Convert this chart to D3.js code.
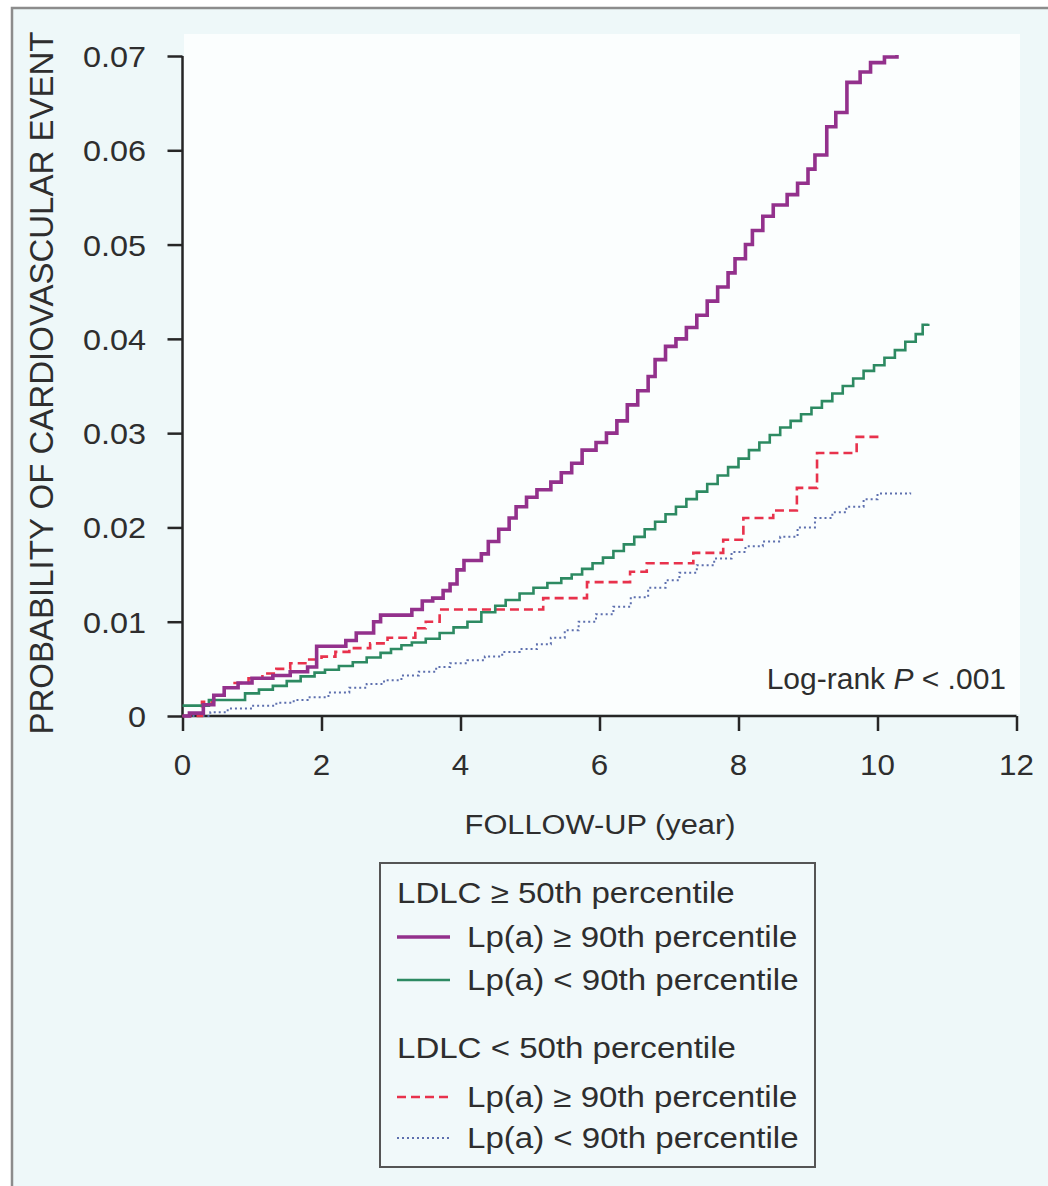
<!DOCTYPE html>
<html>
<head>
<meta charset="utf-8">
<script src="https://cdn.jsdelivr.net/npm/d3@7"></script>
<style>
  html, body { margin: 0; padding: 0; background: #ffffff; }
  svg { display: block; }
  text { font-family: "Liberation Sans", Arial, Helvetica, sans-serif; fill: #2e2e2e; }
</style>
</head>
<body>
<div id="chart"></div>
<script>
// ---------------- DATA ----------------
const xTicks = [0, 2, 4, 6, 8, 10, 12];
const yTicks = [0, 0.01, 0.02, 0.03, 0.04, 0.05, 0.06, 0.07];
const yTickLabels = ["0", "0.01", "0.02", "0.03", "0.04", "0.05", "0.06", "0.07"];

// LDLC >= 50th, Lp(a) >= 90th (purple)
const highLdlHighLpaT = [0, 0.1, 0.3, 0.45, 0.6, 0.8, 1.0, 1.3, 1.55, 1.8, 1.93, 2.35, 2.5, 2.75, 2.85, 3.3, 3.45, 3.6, 3.75, 3.85, 3.95, 4.05, 4.3, 4.4, 4.55, 4.7, 4.8, 4.95, 5.1, 5.3, 5.45, 5.6, 5.75, 5.95, 6.1, 6.25, 6.4, 6.55, 6.7, 6.8, 6.95, 7.1, 7.25, 7.4, 7.55, 7.7, 7.85, 7.95, 8.1, 8.2, 8.35, 8.5, 8.7, 8.85, 9.0, 9.1, 9.27, 9.4, 9.56, 9.75, 9.9, 10.1, 10.28];
const highLdlHighLpaV = [0, 0.0003, 0.0012, 0.0022, 0.0030, 0.0035, 0.0040, 0.0043, 0.0047, 0.0052, 0.0074, 0.0080, 0.0088, 0.0100, 0.0107, 0.0113, 0.0122, 0.0125, 0.0133, 0.0140, 0.0155, 0.0165, 0.0172, 0.0185, 0.0198, 0.0210, 0.0222, 0.0232, 0.0240, 0.0248, 0.0258, 0.0268, 0.0282, 0.0290, 0.0300, 0.0313, 0.0330, 0.0345, 0.0360, 0.0378, 0.0392, 0.0400, 0.0412, 0.0425, 0.0440, 0.0455, 0.0470, 0.0485, 0.0500, 0.0515, 0.0530, 0.0542, 0.0553, 0.0565, 0.0580, 0.0595, 0.0625, 0.0640, 0.0672, 0.0683, 0.0693, 0.0699, 0.0701];

// LDLC >= 50th, Lp(a) < 90th (green)
const highLdlLowLpaT = [0, 0.38, 0.9, 1.1, 1.3, 1.5, 1.7, 1.9, 2.05, 2.25, 2.45, 2.65, 2.85, 3.0, 3.15, 3.3, 3.5, 3.7, 3.9, 4.1, 4.3, 4.5, 4.65, 4.85, 5.05, 5.25, 5.45, 5.6, 5.75, 5.9, 6.05, 6.2, 6.35, 6.5, 6.65, 6.8, 6.95, 7.1, 7.25, 7.4, 7.55, 7.7, 7.85, 8.0, 8.15, 8.3, 8.45, 8.6, 8.75, 8.9, 9.05, 9.2, 9.35, 9.5, 9.65, 9.8, 9.95, 10.1, 10.25, 10.4, 10.55, 10.65, 10.73];
const highLdlLowLpaV = [0.0011, 0.0017, 0.0024, 0.0028, 0.0032, 0.0037, 0.0042, 0.0046, 0.0049, 0.0053, 0.0057, 0.0062, 0.0067, 0.0071, 0.0075, 0.0078, 0.0082, 0.0088, 0.0094, 0.0100, 0.0110, 0.0117, 0.0123, 0.0130, 0.0136, 0.0141, 0.0146, 0.0150, 0.0156, 0.0162, 0.0168, 0.0175, 0.0182, 0.0190, 0.0198, 0.0206, 0.0214, 0.0222, 0.0230, 0.0238, 0.0246, 0.0255, 0.0264, 0.0273, 0.0282, 0.0290, 0.0298, 0.0306, 0.0313, 0.0320, 0.0327, 0.0334, 0.0342, 0.0350, 0.0358, 0.0366, 0.0372, 0.0380, 0.0388, 0.0397, 0.0405, 0.0415, 0.0416];

// LDLC < 50th, Lp(a) >= 90th (red dashed)
const lowLdlHighLpaT = [0, 0.28, 0.45, 0.6, 0.75, 0.95, 1.15, 1.35, 1.55, 1.8, 2.0, 2.2, 2.4, 2.7, 2.95, 3.35, 3.5, 3.7, 5.19, 5.82, 6.44, 6.68, 7.35, 7.78, 8.07, 8.5, 8.84, 9.13, 9.7, 10.04];
const lowLdlHighLpaV = [0, 0.0015, 0.0022, 0.0030, 0.0035, 0.0040, 0.0045, 0.0050, 0.0056, 0.0060, 0.0063, 0.0068, 0.0072, 0.0077, 0.0083, 0.0093, 0.0100, 0.0113, 0.0125, 0.0142, 0.0153, 0.0162, 0.0173, 0.0187, 0.0210, 0.0218, 0.0242, 0.0279, 0.0296, 0.0298];

// LDLC < 50th, Lp(a) < 90th (blue dotted)
const lowLdlLowLpaT = [0, 0.4, 0.65, 1.0, 1.35, 1.6, 1.8, 2.1, 2.4, 2.65, 2.9, 3.15, 3.4, 3.65, 3.85, 4.1, 4.35, 4.6, 4.85, 5.1, 5.3, 5.5, 5.7, 5.95, 6.2, 6.45, 6.7, 6.95, 7.15, 7.4, 7.65, 7.9, 8.1, 8.35, 8.6, 8.85, 9.1, 9.35, 9.55, 9.8, 10.0, 10.47];
const lowLdlLowLpaV = [0, 0.0004, 0.0008, 0.0011, 0.0014, 0.0017, 0.0020, 0.0025, 0.0030, 0.0034, 0.0038, 0.0043, 0.0047, 0.0052, 0.0056, 0.0059, 0.0063, 0.0068, 0.0071, 0.0076, 0.0083, 0.0091, 0.0100, 0.0108, 0.0116, 0.0126, 0.0136, 0.0144, 0.0152, 0.0160, 0.0167, 0.0174, 0.0180, 0.0185, 0.0190, 0.0200, 0.0210, 0.0216, 0.0222, 0.0230, 0.0236, 0.0237];

const legendHeadings = ["LDLC \u2265 50th percentile", "LDLC < 50th percentile"];
const legendItems = ["Lp(a) \u2265 90th percentile", "Lp(a) < 90th percentile", "Lp(a) \u2265 90th percentile", "Lp(a) < 90th percentile"];

// ---------------- LAYOUT ----------------
const W = 1048, H = 1186;
const svg = d3.select("#chart").append("svg").attr("width", W).attr("height", H);

// Scanned-page background and frame
svg.append("rect").attr("x", 12).attr("y", 8).attr("width", W + 10).attr("height", H + 10)
  .attr("fill", "#eef8f9").attr("stroke", "#8c8c8c").attr("stroke-width", 2.5);
svg.append("rect").attr("x", 184).attr("y", 34).attr("width", 836).attr("height", 680)
  .attr("fill", "#fbfefe");

const x = d3.scaleLinear().domain([0, 12]).range([182.5, 1016.5]);
const y = d3.scaleLinear().domain([0, 0.07]).range([716, 56]);

const axisColor = "#262626";

// helper: horizontally stretched text (the scan is slightly wide)
function stext(g, px, py, str, size, sx, anchor) {
  return g.append("text")
    .attr("transform", `translate(${px},${py}) scale(${sx},1)`)
    .attr("font-size", size)
    .attr("text-anchor", anchor || "start")
    .text(str);
}

// Y axis
const yAxis = svg.append("g").attr("transform", `translate(${x(0)},0)`)
  .call(d3.axisLeft(y).tickValues(yTicks).tickSize(15).tickPadding(0).tickFormat(() => ""));
yAxis.select(".domain").attr("d", `M0,${y(0.07)}V${y(0)}`);
yAxis.selectAll("line, path").attr("stroke", axisColor).attr("stroke-width", 2.5);
yTicks.forEach((v, i) => {
  stext(svg, 146, y(v) + 11, yTickLabels[i], 30, 1.08, "end");
});

// X axis
const xAxis = svg.append("g").attr("transform", `translate(0,${y(0)})`)
  .call(d3.axisBottom(x).tickValues(xTicks).tickSize(15).tickFormat(() => ""));
xAxis.select(".domain").attr("d", `M${x(0)},0H${x(12)}`);
xAxis.selectAll("line, path").attr("stroke", axisColor).attr("stroke-width", 2.5);
xTicks.forEach(t => {
  stext(svg, x(t), 775, String(t), 29, 1.08, "middle");
});

// Axis titles
stext(svg, 600, 834, "FOLLOW-UP (year)", 28, 1.1, "middle");
svg.append("text")
  .attr("transform", `translate(53,383) rotate(-90)`)
  .attr("font-size", 33).attr("text-anchor", "middle")
  .text("PROBABILITY OF CARDIOVASCULAR EVENT");

// Log-rank annotation
const lr = svg.append("text").attr("x", 1006).attr("y", 689).attr("font-size", 30).attr("text-anchor", "end");
lr.append("tspan").text("Log-rank ");
lr.append("tspan").attr("font-style", "italic").text("P");
lr.append("tspan").text(" < .001");

// ---------------- CURVES ----------------
const series = [
  { t: lowLdlLowLpaT, v: lowLdlLowLpaV, color: "#5d6fae", width: 2, dash: "2,3" },
  { t: lowLdlHighLpaT, v: lowLdlHighLpaV, color: "#e8324c", width: 2.6, dash: "9,5" },
  { t: highLdlLowLpaT, v: highLdlLowLpaV, color: "#2d8a62", width: 2.6, dash: null },
  { t: highLdlHighLpaT, v: highLdlHighLpaV, color: "#93318c", width: 3.6, dash: null }
];
const line = d3.line().x(d => x(d[0])).y(d => y(d[1])).curve(d3.curveStepAfter);
series.forEach(s => {
  const pts = s.t.map((t, i) => [t, s.v[i]]);
  svg.append("path").datum(pts).attr("d", line)
    .attr("fill", "none").attr("stroke", s.color).attr("stroke-width", s.width)
    .attr("stroke-dasharray", s.dash).attr("stroke-linejoin", "miter");
});

// ---------------- LEGEND ----------------
const lg = svg.append("g");
lg.append("rect").attr("x", 380).attr("y", 863).attr("width", 435).attr("height", 304)
  .attr("fill", "#f1f9fa").attr("stroke", "#555").attr("stroke-width", 2);
stext(lg, 397, 903, legendHeadings[0], 29, 1.14, "start");
stext(lg, 397, 1058, legendHeadings[1], 29, 1.14, "start");
const itemRows = [947, 990, 1107, 1148];
const legendStyles = [series[3], series[2], series[1], series[0]];
itemRows.forEach((by, i) => {
  const s = legendStyles[i];
  lg.append("line").attr("x1", 397).attr("x2", 450).attr("y1", by - 10).attr("y2", by - 10)
    .attr("stroke", s.color).attr("stroke-width", s.width).attr("stroke-dasharray", s.dash);
  stext(lg, 467, by, legendItems[i], 29, 1.14, "start");
});
</script>
</body>
</html>
